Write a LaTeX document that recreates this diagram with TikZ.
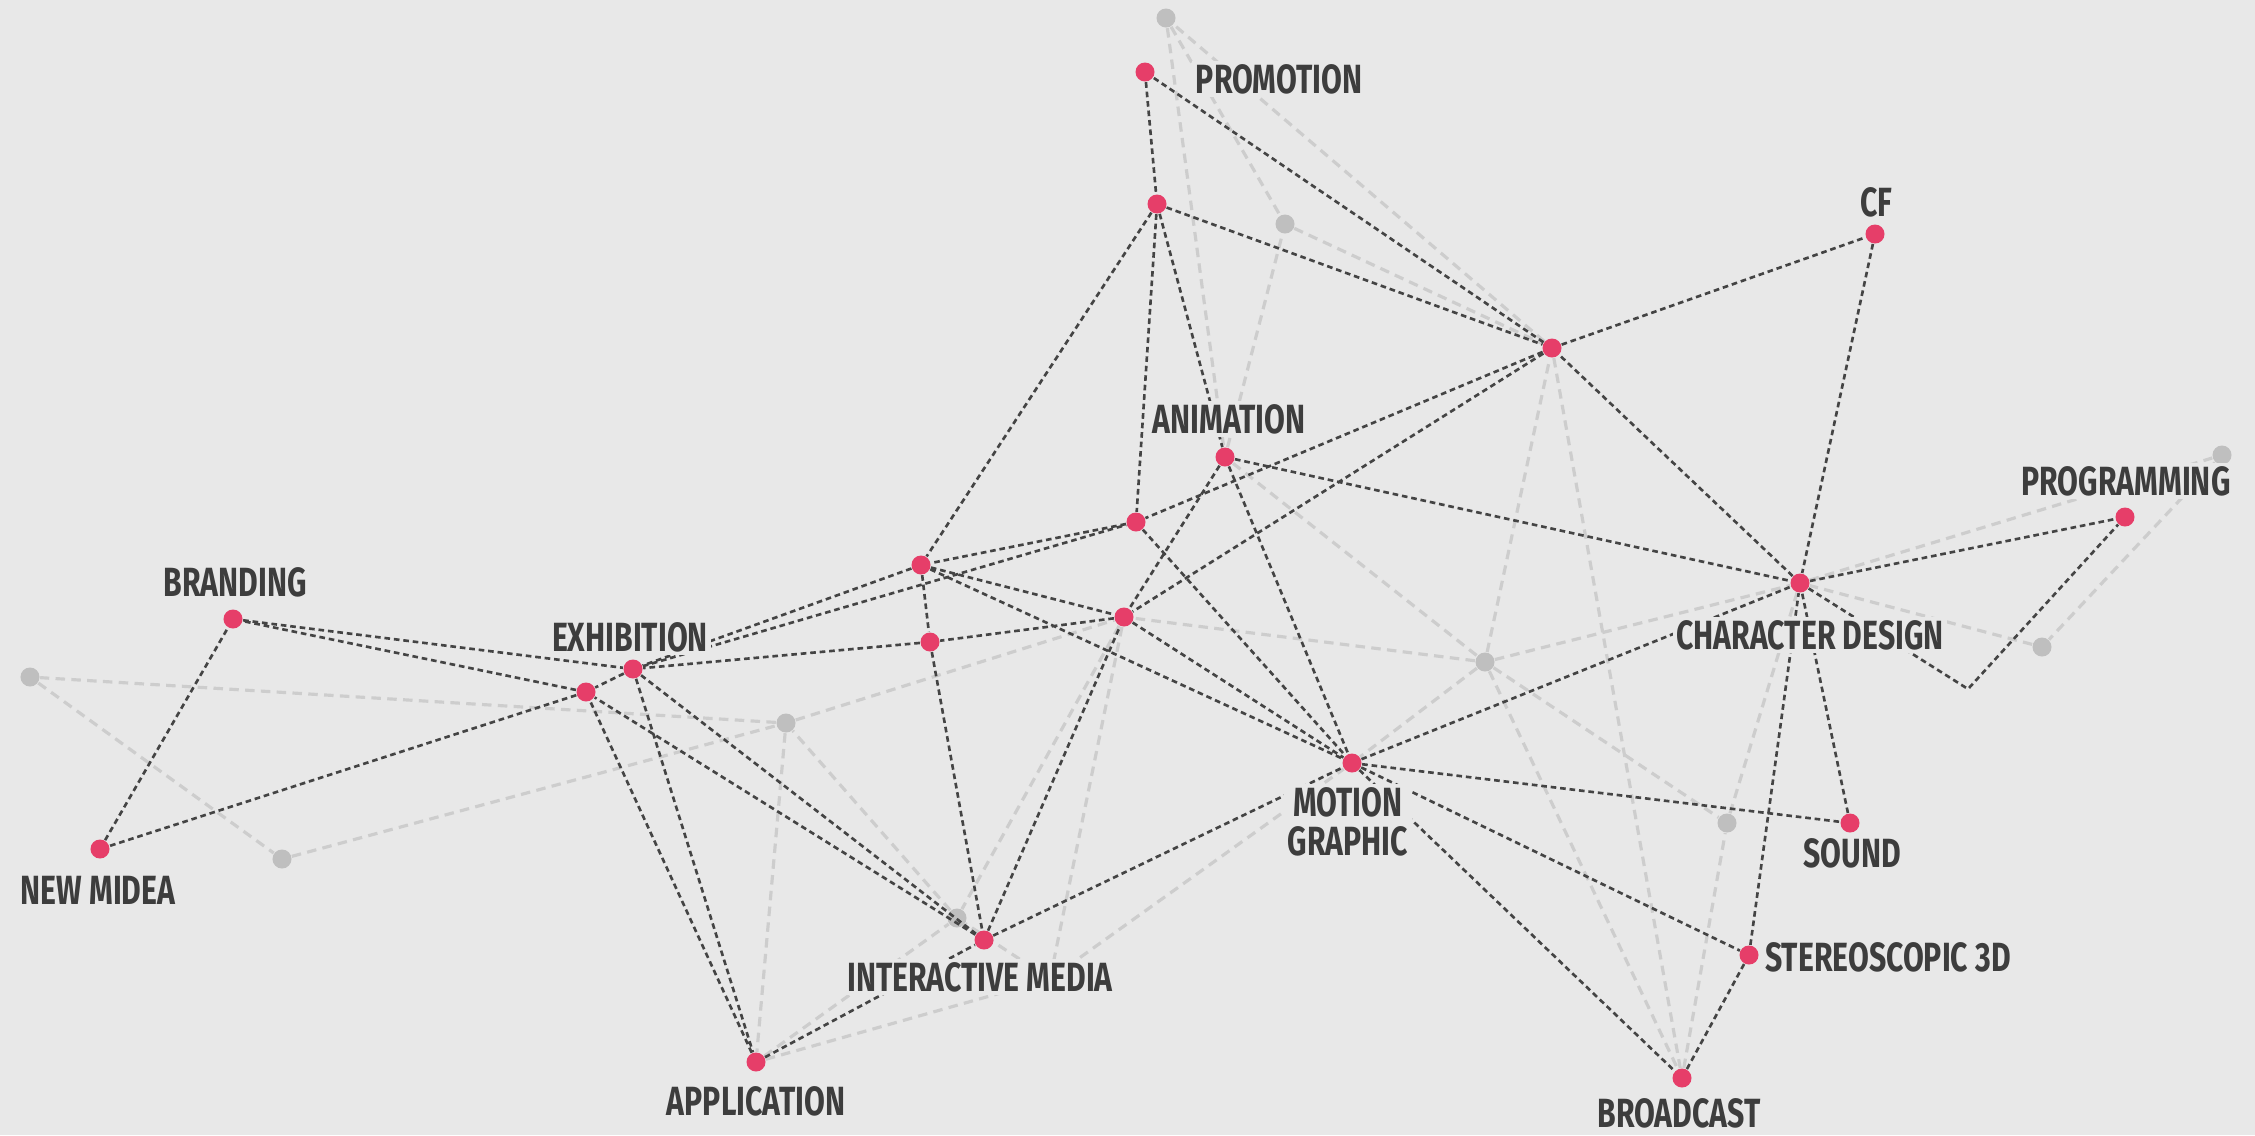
\documentclass[tikz,border=0pt]{standalone}
\usepackage{fontspec}
\newfontfamily\tagfont{Fira Sans}[FakeStretch=0.74]
\pgfdeclarelayer{back}
\pgfdeclarelayer{links}
\pgfsetlayers{back,links,main}
\definecolor{paper}{HTML}{E8E8E8}
\definecolor{rose}{HTML}{E63E69}
\definecolor{ash}{HTML}{BFBFBF}
\definecolor{ink}{HTML}{3D3D3D}
\definecolor{wire}{HTML}{444444}
\definecolor{haze}{HTML}{CDCDCD}
\tikzset{
	hot/.style={circle, fill=rose, inner sep=0pt, minimum size=0.19cm},
	cold/.style={circle, fill=ash, inner sep=0pt, minimum size=0.19cm},
	tag/.style={fill=paper, text=ink, inner sep=1pt, align=center, font=\tagfont\bfseries\fontsize{11.6}{11.1}\selectfont},
	link/.style={wire, line width=0.75pt, dash pattern=on 1.6pt off 1.1pt},
	faint/.style={haze, line width=0.9pt, dash pattern=on 2.7pt off 1.8pt}
}
\begin{document}
\begin{tikzpicture}[x=0.01cm, y=-0.01cm]
	\begin{pgfonlayer}{back}
		\fill[paper] (0,0) rectangle (2255,1135);
		\node[cold] at (1166,18) (G1) {};
		\node[cold] at (1285,224) (G2) {};
		\node[cold] at (1485,662) (G3) {};
		\node[cold] at (2222,455) (G4) {};
		\node[cold] at (2042,647) (G5) {};
		\node[cold] at (30,677) (G6) {};
		\node[cold] at (282,859) (G7) {};
		\node[cold] at (786,723) (G8) {};
		\node[cold] at (957,918) (G9) {};
		\node[cold] at (1727,823) (G10) {};
	\end{pgfonlayer}
	\useasboundingbox (0,0) rectangle (2255,1135);
	
	\node[hot] at (1145,72) (Promo) {};
	\node[hot] at (1157,204) (Pivot) {};
	\node[hot] at (1552,348) (Hub) {};
	\node[hot] at (1875,234) (CF) {};
	\node[hot] at (1225,457) (Anim) {};
	\node[hot] at (1136,522) (Knot1) {};
	\node[hot] at (1124,617) (Knot2) {};
	\node[hot] at (921,565) (Knot3) {};
	\node[hot] at (930,642) (Knot4) {};
	\node[hot] at (633,669) (Exhib) {};
	\node[hot] at (586,692) (Exhib2) {};
	\node[hot] at (233,619) (Brand) {};
	\node[hot] at (100,849) (NewMedia) {};
	\node[hot] at (1352,763) (Motion) {};
	\node[hot] at (1800,583) (Chara) {};
	\node[hot] at (2125,517) (Prog) {};
	\node[hot] at (1850,823) (Sound) {};
	\node[hot] at (1749,955) (Stereo) {};
	\node[hot] at (1682,1078) (Broad) {};
	\node[hot] at (984,940) (Inter) {};
	\node[hot] at (756,1062) (Appl) {};
	\coordinate (Hid) at (1050,979);
	\coordinate (Bend) at (1968,689);
	
	\begin{pgfonlayer}{links}
		\draw[faint] (G1) -- (G2) -- (Hub) -- (G1)
			(G1) -- (Anim) -- (G2)
			(Anim) -- (G3) -- (Hub) -- (Broad)
			(G3) -- (Knot2)
			(G3) -- (Chara)
			(G3) -- (Motion)
			(G3) -- (G10) -- (Chara)
			(G3) -- (Broad) -- (G10)
			(Chara) -- (G4) -- (G5) -- (Chara);
		\draw[faint] (G6) -- (G7) -- (G8) -- (G6)
			(G8) -- (Knot2) -- (G9) -- (G8) -- (Appl) -- (G9)
			(Knot2) -- (Hid) -- (G9)
			(Appl) -- (Hid) -- (Motion);
		
		\draw[link] (Promo) -- (Pivot) -- (Hub) -- (Promo)
			(Pivot) -- (Knot3)
			(Pivot) -- (Knot1)
			(Pivot) -- (Anim)
			(Hub) -- (CF) -- (Chara) -- (Hub)
			(Hub) -- (Knot1)
			(Hub) -- (Knot2)
			(Anim) -- (Chara)
			(Anim) -- (Motion)
			(Anim) -- (Knot2);
		\draw[link] (Knot1) -- (Knot3) -- (Exhib) -- (Knot1) -- (Motion)
			(Knot3) -- (Knot4) -- (Exhib)
			(Knot3) -- (Knot2) -- (Knot4)
			(Knot3) -- (Motion)
			(Knot4) -- (Inter) -- (Knot2) -- (Motion);
		\draw[link] (Exhib) -- (Exhib2) -- (Brand) -- (Exhib)
			(Exhib2) -- (NewMedia) -- (Brand)
			(Exhib) -- (Appl) -- (Exhib2)
			(Exhib) -- (Inter) -- (Exhib2)
			(Appl) -- (Inter) -- (Motion);
		\draw[link] (Motion) -- (Chara)
			(Motion) -- (Sound) -- (Chara)
			(Motion) -- (Stereo) -- (Chara)
			(Motion) -- (Broad) -- (Stereo)
			(Chara) -- (Prog)
			(Chara) -- (Bend) -- (Prog);
		
		\node[tag] at (1279,79) (tPromo) {PROMOTION};
		\node[tag] at (1876,202) (tCF) {CF};
		\node[tag] at (1229,419) (tAnim) {ANIMATION};
		\node[tag] at (2126,481) (tProg) {PROGRAMMING};
		\node[tag] at (235,582) (tBrand) {BRANDING};
		\node[tag] at (630,637) (tExhib) {EXHIBITION};
		\node[tag] at (1810,635) (tChara) {CHARACTER DESIGN};
		\node[tag] at (98,890) (tNewMedia) {NEW MIDEA};
		\node[tag] at (1348,822) (tMotion) {MOTION\\GRAPHIC};
		\node[tag] at (1852,853) (tSound) {SOUND};
		\node[tag] at (1888,957) (tStereo) {STEREOSCOPIC 3D};
		\node[tag] at (980,977) (tInter) {INTERACTIVE MEDIA};
		\node[tag] at (756,1101) (tAppl) {APPLICATION};
		\node[tag] at (1679,1113) (tBroad) {BROADCAST};
	\end{pgfonlayer}
\end{tikzpicture}
\end{document}
